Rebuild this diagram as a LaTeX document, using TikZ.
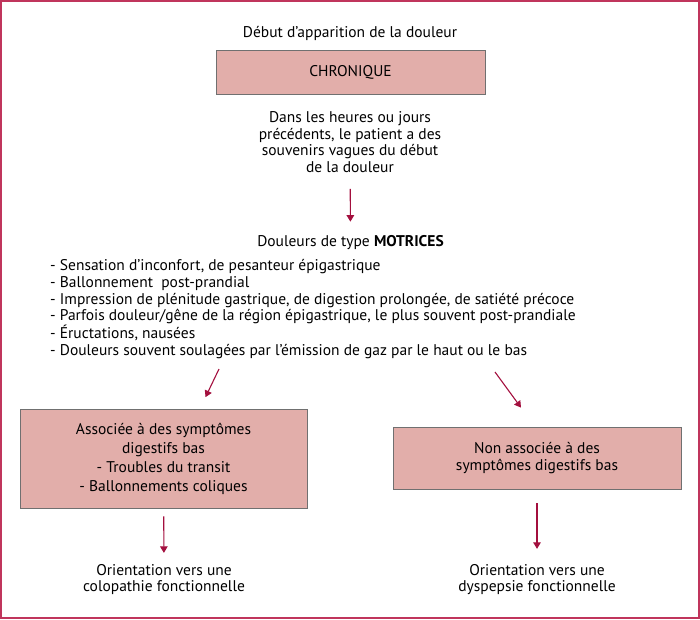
\documentclass[tikz,border=0pt]{standalone}
\usepackage{fontspec}
\setmainfont{PT Sans}
\usetikzlibrary{arrows.meta}
\definecolor{cadre}{HTML}{C0355C}
\definecolor{rouge}{HTML}{A30F3E}
\definecolor{rose}{HTML}{E2AEAA}
\definecolor{bord}{HTML}{707070}
\begin{document}
\begin{tikzpicture}[x=1pt,y=-1pt]
	\tikzstyle{texte}  = [inner sep=0pt, align=center, font=\fontsize{15.5}{16.7}\selectfont]
	\tikzstyle{boite}  = [rectangle, draw=bord, line width=0.8pt, fill=rose]
	\tikzstyle{fleche} = [-{Triangle[length=6.5pt,width=7.5pt]}, draw=rouge, line width=1.1pt]

	\useasboundingbox (0,0) rectangle (700,619);
	\draw[cadre, line width=2pt] (1,1) rectangle (699,617.5);

	\node[texte] (debut) at (350,33) {Début d’apparition de la douleur};
	\node[texte, boite, minimum width=269pt, minimum height=43.6pt] (chronique) at (350.5,72.5) {CHRONIQUE};
	\node[texte] (heures) at (350,142) {Dans les heures ou jours\\précédents, le patient a des\\souvenirs vagues du début\\de la douleur};
	\node[texte] (motrices) at (350.5,242.5) {Douleurs de type \textbf{MOTRICES}};
	\node[texte, align=left, anchor=west] (liste) at (50,309) {- Sensation d’inconfort, de pesanteur épigastrique\\- Ballonnement\ \ post-prandial\\- Impression de plénitude gastrique, de digestion prolongée, de satiété précoce\\- Parfois douleur/gêne de la région épigastrique, le plus souvent post-prandiale\\- Éructations, nausées\\- Douleurs souvent soulagées par l’émission de gaz par le haut ou le bas};

	\node[texte, boite, minimum width=287pt, minimum height=99pt, font=\fontsize{15.5}{19}\selectfont] (assoc) at (163.5,459) {Associée à des symptômes\\digestifs bas\\- Troubles du transit\\- Ballonnements coliques};
	\node[texte, boite, minimum width=288pt, minimum height=62pt] (nonassoc) at (537,458) {Non associée à des\\symptômes digestifs bas};

	\node[texte] (colo) at (164,579.5) {Orientation vers une\\colopathie fonctionnelle};
	\node[texte] (dysp) at (537,579.5) {Orientation vers une\\dyspepsie fonctionnelle};

	\draw[fleche, shorten <=16pt, shorten >=13.5pt] (heures) -- (motrices);
	\coordinate (departA) at (219,369);
	\coordinate (departB) at (495,372);
	\draw[fleche] (departA) -- ([xshift=42pt,yshift=12pt]assoc.north);
	\draw[fleche] (departB) -- ([xshift=-16pt,yshift=19pt]nonassoc.north);
	\draw[fleche, shorten <=7.5pt, shorten >=11pt] (assoc) -- (colo);
	\draw[fleche, shorten <=14pt, shorten >=15pt] (nonassoc) -- (dysp);
\end{tikzpicture}
\end{document}
